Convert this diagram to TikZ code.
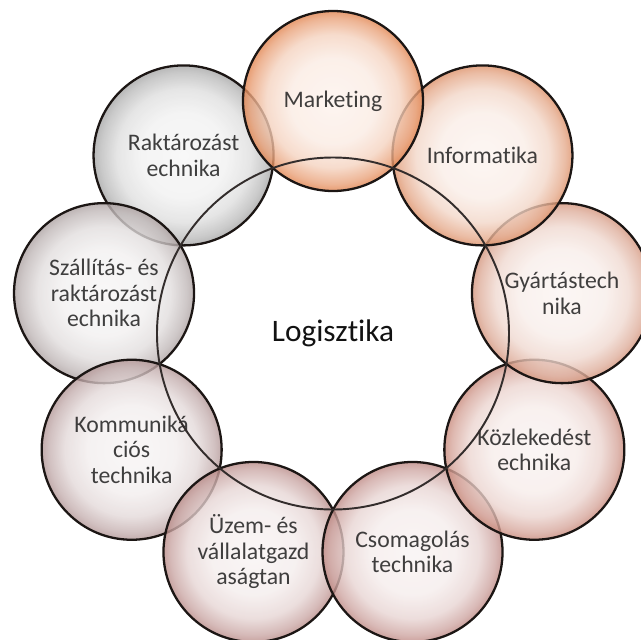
\documentclass[tikz,border=0pt]{standalone}
\usepackage{fontspec}
\setmainfont{Carlito}[Ligatures=NoCommon]
\usepackage{xcolor}
\definecolor{textdark}{HTML}{121212}
\definecolor{rimdark}{HTML}{1C1614}
\definecolor{tangerine}{HTML}{E2844F}
\definecolor{apricot}{HTML}{DD9068}
\definecolor{peach}{HTML}{D4957D}
\definecolor{salmon}{HTML}{C98A7C}
\definecolor{rosewood}{HTML}{BF8A85}
\definecolor{dustrose}{HTML}{BA8C89}
\definecolor{mauve}{HTML}{B39797}
\definecolor{ashrose}{HTML}{ADA2A2}
\definecolor{ash}{HTML}{A6A6A6}
\usepackage{tikz}
\usetikzlibrary{positioning}
\colorlet{rimcol}{ash}
\pgfdeclareradialshading[rimcol]{bubble}{\pgfpoint{0bp}{0bp}}{%
  color(0bp)=(rimcol!10!white); color(12bp)=(rimcol!16!white);
  color(18.5bp)=(rimcol!36!white); color(23bp)=(rimcol!75!white);
  color(25bp)=(rimcol); color(50bp)=(rimcol)}

\begin{document}
\begin{tikzpicture}[
    bubble/.style={circle, minimum size=3.6cm, inner sep=0pt, draw=rimdark, line width=1.3pt, /utils/exec={\colorlet{rimcol}{#1}}, shading=bubble, fill opacity=0.8, text=textdark, align=center, font=\fontsize{13.5}{14.5}\selectfont},
    hub/.style={text=textdark, font=\fontsize{17.8}{20}\selectfont},
    ring/.style={draw=rimdark!90, line width=1.1pt}
  ]
    \useasboundingbox (-6.66,-6.11) rectangle (6.16,6.67);
    \clip (-6.66,-6.11) rectangle (6.16,6.67);

    \node[bubble=ash] (rakt) at (130:4.65) {Raktározást\\echnika};
    \node[bubble=ashrose] (szal) at (170:4.65) {Szállítás- és\\raktározást\\echnika};
    \node[bubble=mauve] (komm) at (-150:4.65) {Kommuniká\\ciós\\technika};
    \node[bubble=dustrose] (uzem) at (-110:4.65) {Üzem- és\\vállalatgazd\\aságtan};
    \node[bubble=rosewood] (csom) at (-70:4.65) {Csomagolás\\technika};
    \node[bubble=salmon] (kozl) at (-30:4.65) {Közlekedést\\echnika};
    \node[bubble=peach] (gyar) at (10:4.65) {Gyártástech\\nika};
    \node[bubble=apricot] (info) at (50:4.65) {Informatika};
    \node[bubble=tangerine] (mark) at (90:4.65) {Marketing};

    \node[hub] (logi) at (0,0) {Logisztika};
    \draw[ring] (logi.center) circle[radius=3.52cm];
  \end{tikzpicture}
\end{document}
